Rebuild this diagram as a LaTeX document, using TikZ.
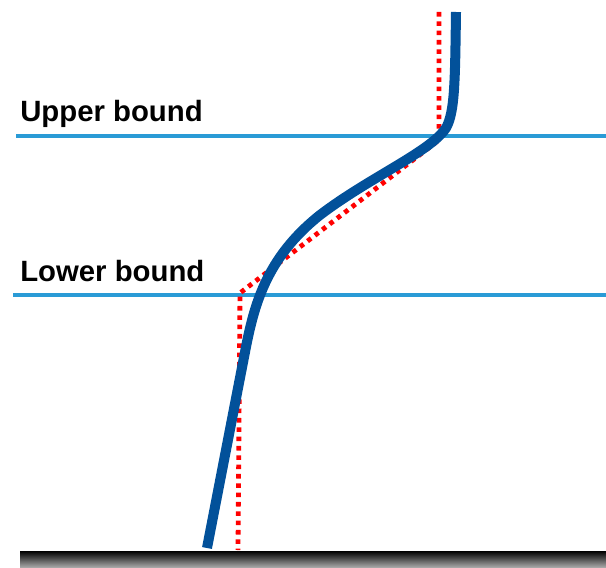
\documentclass[tikz,border=0pt]{standalone}
\usepackage{fontspec}
\setmainfont{Liberation Sans}

\begin{document}
\begin{tikzpicture}[
  x=0.75pt, y=-0.75pt,
  every node/.style={inner sep=0pt},
  label/.style={anchor=base west, font=\fontsize{22}{26}\selectfont\bfseries},
  bound/.style={draw=bndblue, line width=2.3pt},
  curve/.style={draw=curveblue, line width=7.5pt, line cap=butt},
  dotline/.style={draw=red, line width=3.6pt, dash pattern=on 3.4pt off 3.6pt}]

  \definecolor{bndblue}{HTML}{2A9BD6}
  \definecolor{curveblue}{HTML}{02519A}

  \useasboundingbox (0,0) rectangle (606,567);

  % ground
  \shade[top color=black, bottom color=black!35] (20,551) rectangle (606,567);

  % bound lines
  \coordinate (ub-l) at (16,136);
  \coordinate (ub-r) at (606,136);
  \coordinate (lb-l) at (13,295);
  \coordinate (lb-r) at (606,295);
  \draw[bound] (ub-l) -- (ub-r);
  \draw[bound] (lb-l) -- (lb-r);

  % labels
  \node[label] (ub) at (20,121) {Upper bound};
  \node[label] (lb) at (20,281) {Lower bound};

  % dotted step
  \draw[dotline] (439,12) -- (439,140) -- (240,293) -- (238,550);

  % measured curve
  \draw[curve] (207,548) -- (245,352)
    .. controls (254,305) and (266,258) .. (320,215)
    .. controls (370,177) and (430,152) .. (446,128)
    .. controls (455,112) and (455,80) .. (456,12);
\end{tikzpicture}
\end{document}
